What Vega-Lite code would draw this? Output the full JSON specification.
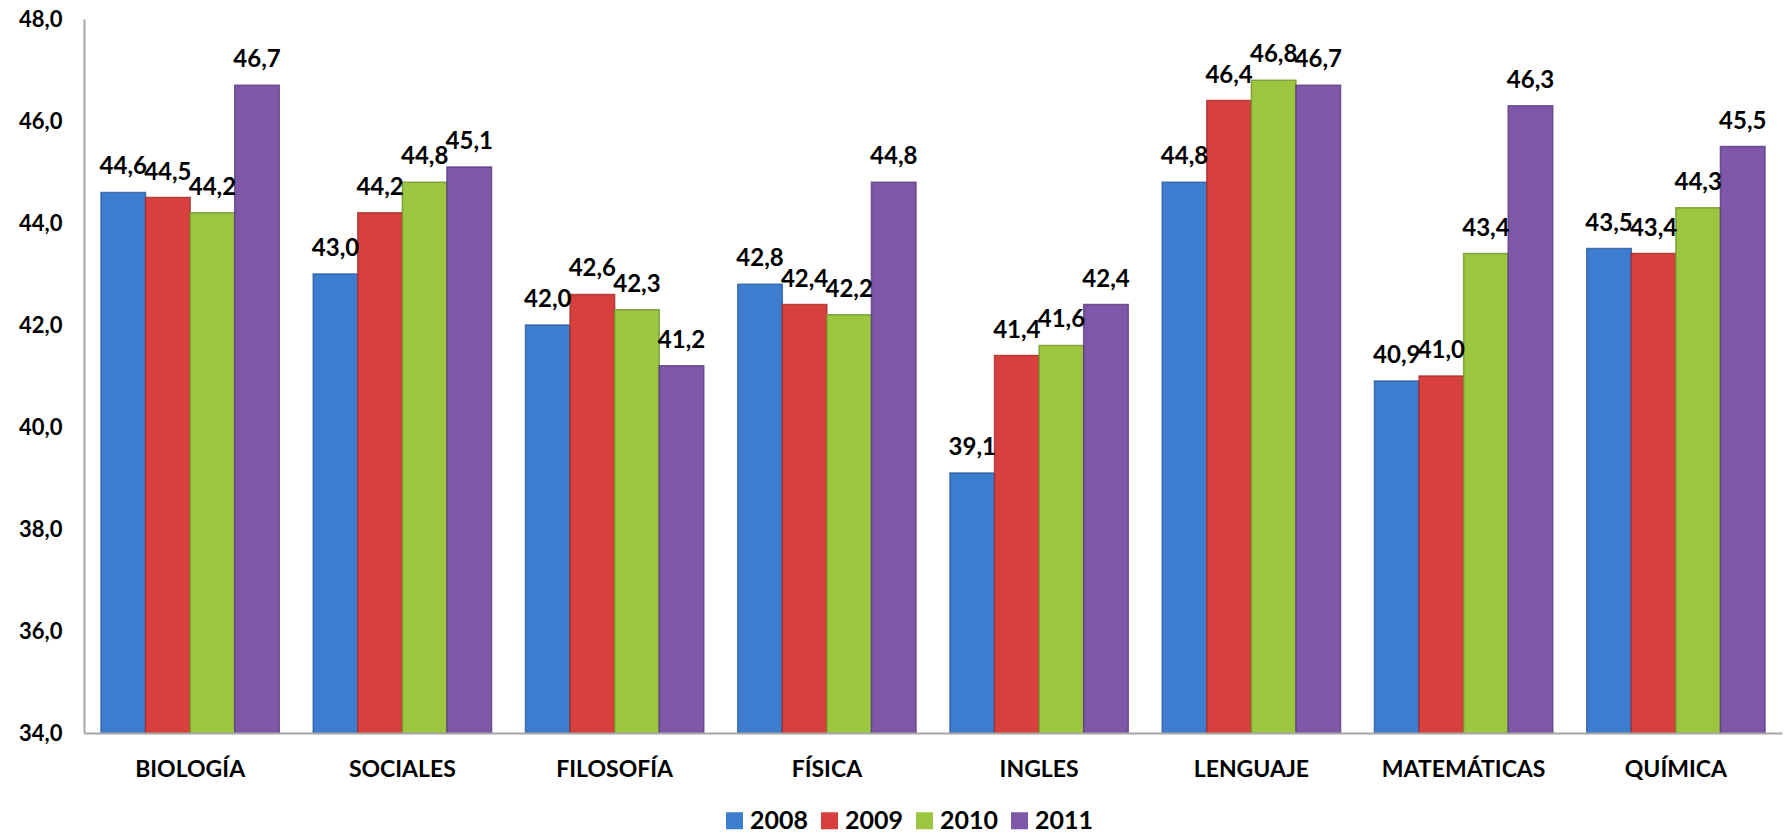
{
  "$schema": "https://vega.github.io/schema/vega-lite/v6.json",
  "width": 1698,
  "height": 714,
  "autosize": "none",
  "padding": {"left": 84, "top": 19, "right": 3, "bottom": 102},
  "config": {
    "locale": {"number": {"decimal": ",", "thousands": ".", "grouping": [3], "currency": ["", ""]}},
    "view": {"stroke": null},
    "font": "Lato"
  },
  "data": {
    "values": [
      {"materia": "BIOLOGÍA", "anio": "2008", "valor": 44.6},
      {"materia": "BIOLOGÍA", "anio": "2009", "valor": 44.5},
      {"materia": "BIOLOGÍA", "anio": "2010", "valor": 44.2},
      {"materia": "BIOLOGÍA", "anio": "2011", "valor": 46.7},
      {"materia": "SOCIALES", "anio": "2008", "valor": 43.0},
      {"materia": "SOCIALES", "anio": "2009", "valor": 44.2},
      {"materia": "SOCIALES", "anio": "2010", "valor": 44.8},
      {"materia": "SOCIALES", "anio": "2011", "valor": 45.1},
      {"materia": "FILOSOFÍA", "anio": "2008", "valor": 42.0},
      {"materia": "FILOSOFÍA", "anio": "2009", "valor": 42.6},
      {"materia": "FILOSOFÍA", "anio": "2010", "valor": 42.3},
      {"materia": "FILOSOFÍA", "anio": "2011", "valor": 41.2},
      {"materia": "FÍSICA", "anio": "2008", "valor": 42.8},
      {"materia": "FÍSICA", "anio": "2009", "valor": 42.4},
      {"materia": "FÍSICA", "anio": "2010", "valor": 42.2},
      {"materia": "FÍSICA", "anio": "2011", "valor": 44.8},
      {"materia": "INGLES", "anio": "2008", "valor": 39.1},
      {"materia": "INGLES", "anio": "2009", "valor": 41.4},
      {"materia": "INGLES", "anio": "2010", "valor": 41.6},
      {"materia": "INGLES", "anio": "2011", "valor": 42.4},
      {"materia": "LENGUAJE", "anio": "2008", "valor": 44.8},
      {"materia": "LENGUAJE", "anio": "2009", "valor": 46.4},
      {"materia": "LENGUAJE", "anio": "2010", "valor": 46.8},
      {"materia": "LENGUAJE", "anio": "2011", "valor": 46.7},
      {"materia": "MATEMÁTICAS", "anio": "2008", "valor": 40.9},
      {"materia": "MATEMÁTICAS", "anio": "2009", "valor": 41.0},
      {"materia": "MATEMÁTICAS", "anio": "2010", "valor": 43.4},
      {"materia": "MATEMÁTICAS", "anio": "2011", "valor": 46.3},
      {"materia": "QUÍMICA", "anio": "2008", "valor": 43.5},
      {"materia": "QUÍMICA", "anio": "2009", "valor": 43.4},
      {"materia": "QUÍMICA", "anio": "2010", "valor": 44.3},
      {"materia": "QUÍMICA", "anio": "2011", "valor": 45.5}
    ]
  },
  "encoding": {
    "x": {
      "field": "materia",
      "type": "nominal",
      "sort": null,
      "scale": {"paddingInner": 0.16, "paddingOuter": 0.08},
      "axis": {
        "title": null,
        "labelAngle": 0,
        "ticks": false,
        "domainColor": "#A6A6A6",
        "domainWidth": 2,
        "labelPadding": 25,
        "labelFontSize": 23,
        "labelFontWeight": "bold",
        "labelColor": "#000000",
        "zindex": 1
      }
    },
    "xOffset": {"field": "anio", "type": "nominal"},
    "y": {
      "field": "valor",
      "type": "quantitative",
      "scale": {"domain": [34, 48], "zero": false, "nice": false},
      "axis": {
        "title": null,
        "values": [34, 36, 38, 40, 42, 44, 46, 48],
        "format": ".1f",
        "grid": false,
        "ticks": false,
        "domainColor": "#A6A6A6",
        "domainWidth": 2,
        "labelPadding": 22,
        "labelFontSize": 22,
        "labelFontWeight": "bold",
        "labelColor": "#000000"
      }
    }
  },
  "layer": [
    {
      "mark": {"type": "bar", "strokeWidth": 1.5, "strokeOpacity": 0.8, "clip": true},
      "encoding": {
        "color": {
          "field": "anio",
          "type": "nominal",
          "scale": {"domain": ["2008", "2009", "2010", "2011"], "range": ["#3D7DCF", "#D8403D", "#9CC540", "#7E57A8"]},
          "legend": {
            "title": null,
            "orient": "none",
            "legendX": 638,
            "legendY": 789,
            "direction": "horizontal",
            "symbolType": "square",
            "symbolSize": 289,
            "symbolStrokeWidth": 0,
            "labelFontSize": 25,
            "labelFontWeight": "bold",
            "labelColor": "#000000",
            "labelOffset": 3,
            "columnPadding": 8
          }
        },
        "stroke": {
          "field": "anio",
          "type": "nominal",
          "scale": {"domain": ["2008", "2009", "2010", "2011"], "range": ["#2A5C9E", "#A42C2A", "#71952A", "#5A3C80"]},
          "legend": null
        }
      }
    },
    {
      "mark": {"type": "text", "baseline": "alphabetic", "dy": -18, "fontSize": 24, "fontWeight": "bold", "color": "#000000"},
      "encoding": {
        "text": {"field": "valor", "type": "quantitative", "format": ".1f"}
      }
    }
  ]
}
